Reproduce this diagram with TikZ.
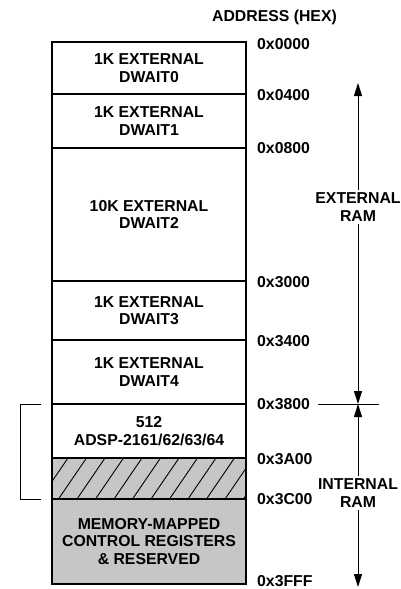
\documentclass[tikz,border=0pt]{standalone}
\usepackage{fontspec}
\setmainfont{Liberation Sans}
\usetikzlibrary{arrows.meta,positioning,calc}
\definecolor{memgray}{RGB}{198,198,198}

\begin{document}
\begin{tikzpicture}[x=1pt, y=-1pt, >={Triangle[length=13pt,width=8pt]},
    font=\bfseries\fontsize{15.8}{17.5}\selectfont,
    region/.style={rectangle, draw, line width=1.3pt, minimum width=194pt, outer sep=0pt,
                   inner sep=0pt, anchor=north west, align=center},
    addr/.style={anchor=west, inner sep=0pt},
    span/.style={align=center, inner sep=3pt},
    rule/.style={line width=1pt}]
    \useasboundingbox (0,0) rectangle (401,589);

    % memory regions, top to bottom
    \node[region, minimum height=52pt] (dw0) at (52,42) {1K EXTERNAL\\DWAIT0};
    \node[region, minimum height=54pt, below=0pt of dw0] (dw1) {1K EXTERNAL\\DWAIT1};
    \node[region, minimum height=133pt, below=0pt of dw1] (dw2) {10K EXTERNAL\\DWAIT2};
    \node[region, minimum height=59pt, below=0pt of dw2] (dw3) {1K EXTERNAL\\DWAIT3};
    \node[region, minimum height=64pt, below=0pt of dw3] (dw4) {1K EXTERNAL\\DWAIT4};
    \node[region, minimum height=54pt, below=0pt of dw4] (intmem) {512\\ADSP-2161/62/63/64};
    \node[region, minimum height=41pt, fill=memgray, below=0pt of intmem] (hatch) {};
    \node[region, minimum height=85pt, fill=memgray, below=0pt of hatch] (mmr)
        {MEMORY-MAPPED\\CONTROL REGISTERS\\\& RESERVED};

    % hatching of the reserved block
    \begin{scope}
        \clip (hatch.south west) rectangle (hatch.north east);
        \foreach \i in {0,...,11}
            \draw[line width=0.9pt] ($(hatch.south west)+(\i*18.5-12,0)$) -- ++(28,-41);
    \end{scope}
    \draw[line width=2.3pt] (dw0.north west) rectangle (mmr.south east);

    % addresses
    \node[anchor=center, inner sep=0pt] (title) at (274.5,17.5) {ADDRESS (HEX)};
    \node[addr] (a0000) at ($(dw0.north east)+(11,2)$) {0x0000};
    \node[addr] (a0400) at ($(dw1.north east)+(11,1)$) {0x0400};
    \node[addr] (a0800) at ($(dw2.north east)+(11,0)$) {0x0800};
    \node[addr] (a3000) at ($(dw3.north east)+(11,1)$) {0x3000};
    \node[addr] (a3400) at ($(dw4.north east)+(11,1)$) {0x3400};
    \node[addr] (a3800) at ($(intmem.north east)+(11,0)$) {0x3800};
    \node[addr] (a3A00) at ($(hatch.north east)+(11,1)$) {0x3A00};
    \node[addr] (a3C00) at ($(mmr.north east)+(11,0)$) {0x3C00};
    \node[addr] (a3FFF) at ($(mmr.south east)+(11,-3)$) {0x3FFF};

    % RAM spans
    \coordinate (exttop) at (358,83);
    \coordinate (split) at (358,404);
    \coordinate (intbot) at (358,587);
    \coordinate (tickl) at (318,404);
    \coordinate (tickr) at (379,404);
    \node[span] (extlbl) at (358,207) {EXTERNAL\\RAM};
    \node[span] (intlbl) at (358,493) {INTERNAL\\RAM};
    \draw[rule, ->] (extlbl) -- (exttop);
    \draw[rule, ->] (extlbl) -- (split);
    \draw[rule, ->] (intlbl) -- (split);
    \draw[rule, ->] (intlbl) -- (intbot);
    \draw[rule] (tickl) -- (tickr);

    % bracket round the on-chip block
    \draw[rule] ($(intmem.north west)+(-11,0)$) -| ($(hatch.south west)+(-32,0)$) -- ($(hatch.south west)+(-11,0)$);
\end{tikzpicture}
\end{document}
